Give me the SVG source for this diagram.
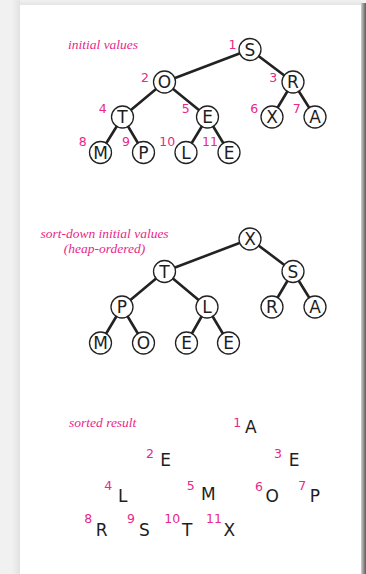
<svg xmlns="http://www.w3.org/2000/svg" width="366" height="574" viewBox="0 0 366 574">
  <defs>
    <linearGradient id="edgeR" x1="0" x2="1" y1="0" y2="0">
      <stop offset="0" stop-color="#d0d0d0"/>
      <stop offset="1" stop-color="#5a5a5a"/>
    </linearGradient>
    <linearGradient id="edgeL" x1="0" x2="1" y1="0" y2="0">
      <stop offset="0" stop-color="#f1f1f1"/>
      <stop offset="1" stop-color="#e2e2e2"/>
    </linearGradient>
    <linearGradient id="edgeT" x1="0" x2="0" y1="0" y2="1">
      <stop offset="0" stop-color="#f1f1f1"/>
      <stop offset="1" stop-color="#e4e4e4"/>
    </linearGradient>
    <style>
      .edge { stroke: #222; stroke-width: 2.6; fill: none; stroke-linecap: round; }
      .node circle { fill: #fff; stroke: #222; stroke-width: 1.3; }
      .key { font-family: "DejaVu Sans", "Liberation Sans", sans-serif; font-size: 17px; fill: #1e1e1e; text-anchor: middle; }
      .idx { font-family: "DejaVu Sans", "Liberation Sans", sans-serif; font-size: 12.5px; fill: #e8288a; text-anchor: middle; }
      .cap { font-family: "Liberation Serif", serif; font-style: italic; font-size: 13.5px; fill: #e8288a; }
    </style>
  </defs>

  <!-- page background and shadows -->
  <rect x="0" y="0" width="366" height="574" fill="#f1f1f1"/>
  <rect x="12" y="0" width="8" height="574" fill="url(#edgeL)"/>
  <rect x="20" y="0" width="342" height="5" fill="url(#edgeT)"/>
  <rect x="361" y="3" width="5" height="571" fill="url(#edgeR)"/>
  <rect x="20" y="5" width="341" height="569" fill="#fff"/>

  <!-- captions -->
  <text class="cap" x="68" y="49">initial values</text>
  <text class="cap" x="104.5" y="238" text-anchor="middle">sort-down initial values</text>
  <text class="cap" x="104.5" y="253" text-anchor="middle">(heap-ordered)</text>
  <text class="cap" x="69" y="427">sorted result</text>

  <!-- initial array as a tree -->
  <g id="edges-initial">
    <line class="edge" x1="250" y1="49.5" x2="164.5" y2="82"/>
    <line class="edge" x1="250" y1="49.5" x2="293" y2="82"/>
    <line class="edge" x1="164.5" y1="82" x2="122.5" y2="117"/>
    <line class="edge" x1="164.5" y1="82" x2="207.5" y2="117"/>
    <line class="edge" x1="293" y1="82" x2="272" y2="117"/>
    <line class="edge" x1="293" y1="82" x2="315" y2="117"/>
    <line class="edge" x1="122.5" y1="117" x2="100.5" y2="152.5"/>
    <line class="edge" x1="122.5" y1="117" x2="143.5" y2="152.5"/>
    <line class="edge" x1="207.5" y1="117" x2="186" y2="152.5"/>
    <line class="edge" x1="207.5" y1="117" x2="229" y2="152.5"/>
  </g>
  <g id="init-1" class="node"><circle cx="250" cy="49.5" r="11"/><text class="key" x="250" y="55.7">S</text><text class="idx" x="232.5" y="49.3">1</text></g>
  <g id="init-2" class="node"><circle cx="164.5" cy="82" r="11"/><text class="key" x="164.5" y="88.2">O</text><text class="idx" x="145" y="82.3">2</text></g>
  <g id="init-3" class="node"><circle cx="293" cy="82" r="11"/><text class="key" x="293" y="88.2">R</text><text class="idx" x="273.3" y="82.3">3</text></g>
  <g id="init-4" class="node"><circle cx="122.5" cy="117" r="11"/><text class="key" x="122.5" y="123.2">T</text><text class="idx" x="102.7" y="113.3">4</text></g>
  <g id="init-5" class="node"><circle cx="207.5" cy="117" r="11"/><text class="key" x="207.5" y="123.2">E</text><text class="idx" x="185.7" y="113.3">5</text></g>
  <g id="init-6" class="node"><circle cx="272" cy="117" r="11"/><text class="key" x="272" y="123.2">X</text><text class="idx" x="254.3" y="113">6</text></g>
  <g id="init-7" class="node"><circle cx="315" cy="117" r="11"/><text class="key" x="315" y="123.2">A</text><text class="idx" x="296.7" y="113">7</text></g>
  <g id="init-8" class="node"><circle cx="100.5" cy="152.5" r="11"/><text class="key" x="100.5" y="158.7">M</text><text class="idx" x="82.7" y="146">8</text></g>
  <g id="init-9" class="node"><circle cx="143.5" cy="152.5" r="11"/><text class="key" x="143.5" y="158.7">P</text><text class="idx" x="126" y="146">9</text></g>
  <g id="init-10" class="node"><circle cx="186" cy="152.5" r="11"/><text class="key" x="186" y="158.7">L</text><text class="idx" x="167.3" y="146">10</text></g>
  <g id="init-11" class="node"><circle cx="229" cy="152.5" r="11"/><text class="key" x="229" y="158.7">E</text><text class="idx" x="210" y="146">11</text></g>

  <!-- heap-ordered tree -->
  <g id="edges-heap">
    <line class="edge" x1="250" y1="239" x2="164.5" y2="271.5"/>
    <line class="edge" x1="250" y1="239" x2="293" y2="271.5"/>
    <line class="edge" x1="164.5" y1="271.5" x2="122" y2="307"/>
    <line class="edge" x1="164.5" y1="271.5" x2="207" y2="307"/>
    <line class="edge" x1="293" y1="271.5" x2="272" y2="307"/>
    <line class="edge" x1="293" y1="271.5" x2="315" y2="307"/>
    <line class="edge" x1="122" y1="307" x2="100.5" y2="343"/>
    <line class="edge" x1="122" y1="307" x2="143.5" y2="343"/>
    <line class="edge" x1="207" y1="307" x2="186.5" y2="343"/>
    <line class="edge" x1="207" y1="307" x2="228.5" y2="343"/>
  </g>
  <g id="heap-1" class="node"><circle cx="250" cy="239" r="11"/><text class="key" x="250" y="245.2">X</text></g>
  <g id="heap-2" class="node"><circle cx="164.5" cy="271.5" r="11"/><text class="key" x="164.5" y="277.7">T</text></g>
  <g id="heap-3" class="node"><circle cx="293" cy="271.5" r="11"/><text class="key" x="293" y="277.7">S</text></g>
  <g id="heap-4" class="node"><circle cx="122" cy="307" r="11"/><text class="key" x="122" y="313.2">P</text></g>
  <g id="heap-5" class="node"><circle cx="207" cy="307" r="11"/><text class="key" x="207" y="313.2">L</text></g>
  <g id="heap-6" class="node"><circle cx="272" cy="307" r="11"/><text class="key" x="272" y="313.2">R</text></g>
  <g id="heap-7" class="node"><circle cx="315" cy="307" r="11"/><text class="key" x="315" y="313.2">A</text></g>
  <g id="heap-8" class="node"><circle cx="100.5" cy="343" r="11"/><text class="key" x="100.5" y="349.2">M</text></g>
  <g id="heap-9" class="node"><circle cx="143.5" cy="343" r="11"/><text class="key" x="143.5" y="349.2">O</text></g>
  <g id="heap-10" class="node"><circle cx="186.5" cy="343" r="11"/><text class="key" x="186.5" y="349.2">E</text></g>
  <g id="heap-11" class="node"><circle cx="228.5" cy="343" r="11"/><text class="key" x="228.5" y="349.2">E</text></g>

  <!-- sorted array laid out by tree position -->
  <g id="sorted-1"><text class="idx" x="237.3" y="427">1</text><text class="key" x="250.7" y="433.3">A</text></g>
  <g id="sorted-2"><text class="idx" x="150" y="458.3">2</text><text class="key" x="165.7" y="466">E</text></g>
  <g id="sorted-3"><text class="idx" x="278" y="458.3">3</text><text class="key" x="294" y="466">E</text></g>
  <g id="sorted-4"><text class="idx" x="108.3" y="490">4</text><text class="key" x="122.7" y="501.7">L</text></g>
  <g id="sorted-5"><text class="idx" x="190.7" y="490">5</text><text class="key" x="208.3" y="500">M</text></g>
  <g id="sorted-6"><text class="idx" x="259" y="490.7">6</text><text class="key" x="272.3" y="501.7">O</text></g>
  <g id="sorted-7"><text class="idx" x="302.3" y="490">7</text><text class="key" x="315" y="501.7">P</text></g>
  <g id="sorted-8"><text class="idx" x="88.3" y="523.3">8</text><text class="key" x="101.7" y="536">R</text></g>
  <g id="sorted-9"><text class="idx" x="131" y="523.3">9</text><text class="key" x="144.3" y="536">S</text></g>
  <g id="sorted-10"><text class="idx" x="172.3" y="523.3">10</text><text class="key" x="187.3" y="536">T</text></g>
  <g id="sorted-11"><text class="idx" x="214" y="523.3">11</text><text class="key" x="229.3" y="536">X</text></g>
</svg>
